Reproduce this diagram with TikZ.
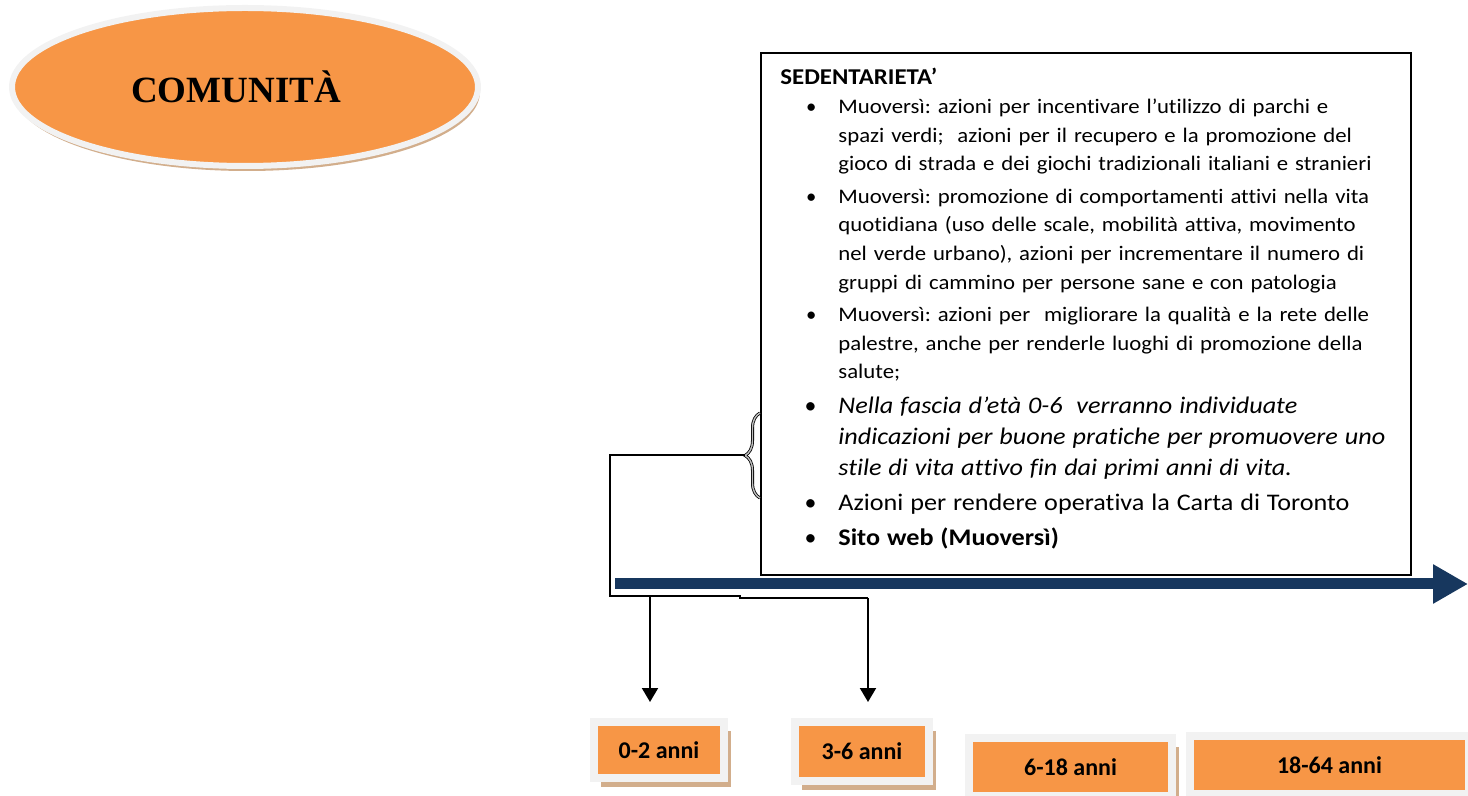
\documentclass[tikz,border=0pt]{standalone}
\usepackage{fontspec}
\setmainfont{Carlito}[Ligatures=NoCommon]
\newfontfamily\widefont{Carlito}[FakeStretch=1.1, Ligatures=NoCommon]
\newfontfamily\timesfont{Liberation Serif}
\usepackage{enumitem}
\usepackage{tikz}
\usetikzlibrary{arrows.meta, positioning, shapes.geometric, shadows, decorations.pathreplacing}

\definecolor{boxorange}{HTML}{F79646}
\definecolor{rimgray}{HTML}{F2F2F2}
\definecolor{shadowtan}{HTML}{D2AE8C}
\definecolor{timeblue}{HTML}{17375E}

\begin{document}
\frenchspacing
\begin{tikzpicture}[x=0.5pt, y=-0.5pt,
            agebox/.style={fill=boxorange, draw=rimgray, line width=4pt, inner sep=0pt,
                font=\fontsize{12}{14}\selectfont\bfseries,
                drop shadow={shadow xshift=3.5pt, shadow yshift=-4.5pt, fill=shadowtan, opacity=1}},
            link/.style={draw=black, line width=1pt},
            link arrow/.style={link, -{Triangle[length=7pt, width=8pt]}, shorten >=8pt},
            sed box/.style={draw=black, line width=1pt, fill=white, minimum width=325pt,
                minimum height=261pt, anchor=north west, inner sep=0pt},
            sed text/.style={anchor=north west, inner sep=0pt, text width=310pt, align=left,
                font=\widefont\fontsize{10.35}{14.3}\selectfont},
            brace line/.style={decorate, decoration={brace, amplitude=7.5pt}, draw=black,
                line width=0.4pt, double=lightgray, double distance=0.7pt},
            timeline/.style={timeblue, line width=5.5pt, -{Triangle[length=17.5pt, width=18.5pt]}}]

            \useasboundingbox (0,0) rectangle (1468,796);

            % Community ellipse
            \node[ellipse, fill=boxorange, draw=rimgray, line width=3pt, minimum width=233pt,
                  minimum height=79pt, inner sep=0pt,
                  drop shadow={shadow xshift=1pt, shadow yshift=-2.5pt, fill=shadowtan, opacity=1},
                  font=\timesfont\fontsize{18.5}{20}\selectfont\bfseries] (comunita) at (245,87)
                  {\hspace*{-9pt}COMUNITÀ};

            % Box with the actions
            \node[sed box] (sed) at (760,52) {};
            \node[sed text] (sedlist) at ([xshift=10pt, yshift=-8pt]sed.north west) {%
                {\fontsize{11.3}{14.3}\selectfont\bfseries SEDENTARIETA’}
                \begin{itemize}[leftmargin=29pt, labelsep=11pt, itemsep=2pt, topsep=0pt,
                                partopsep=0pt, parsep=0pt]
                    \item Muoversì: azioni per incentivare l’utilizzo di parchi e\newline
                          spazi verdi;\ \ azioni per il recupero e la promozione del\newline
                          gioco di strada e dei giochi tradizionali italiani e stranieri
                    \item Muoversì: promozione di comportamenti attivi nella vita\newline
                          quotidiana (uso delle scale, mobilità attiva, movimento\newline
                          nel verde urbano), azioni per incrementare il numero di\newline
                          gruppi di cammino per persone sane e con patologia
                    \item Muoversì: azioni per\ \ migliorare la qualità e la rete delle\newline
                          palestre, anche per renderle luoghi di promozione della\newline
                          salute;\par
                    \fontsize{11.9}{15.5}\selectfont
                    \item {\itshape Nella fascia d’età 0-6\ \ verranno individuate\newline
                          indicazioni per buone pratiche per promuovere uno\newline
                          stile di vita attivo fin dai primi anni di vita.}
                    \item Azioni per rendere operativa la Carta di Toronto
                    \item \textbf{Sito web (Muoversì)}
                \end{itemize}};

            % Brace and links to the age groups
            \coordinate (bracetop) at (760,413);
            \coordinate (bracebot) at (760,498);
            \coordinate (bracetip) at (745,455);
            \draw[brace line] (bracebot) -- (bracetop);

            % Age groups
            \node[agebox, minimum width=65pt, minimum height=28pt] (a02) at (659,750) {0-2 anni};
            \node[agebox, minimum width=67pt, minimum height=29.5pt] (a36) at (862,751.5) {3-6 anni};
            \node[agebox, minimum width=101.5pt, minimum height=29pt] (a618) at (1070.5,767) {6-18 anni};
            \node[agebox, minimum width=139.5pt, minimum height=29pt] (a1864) at (1329.5,765) {18-64 anni};

            \coordinate (j1) at (650,596);
            \coordinate (step) at (740,598);
            \coordinate (j2) at (868,598);
            \draw[link] (bracetip) -| (j1 -| 610,0) |- (j1) -- (step |- j1) -- (step) -- (j2);
            \draw[link arrow] (j1) -- (j1 |- a02.north);
            \draw[link arrow] (j2) -- (j2 |- a36.north);

            % Time line
            \coordinate (tstart) at (615,584);
            \coordinate (tend) at (1468,584);
            \draw[timeline] (tstart) -- (tend);
        \end{tikzpicture}
\end{document}
